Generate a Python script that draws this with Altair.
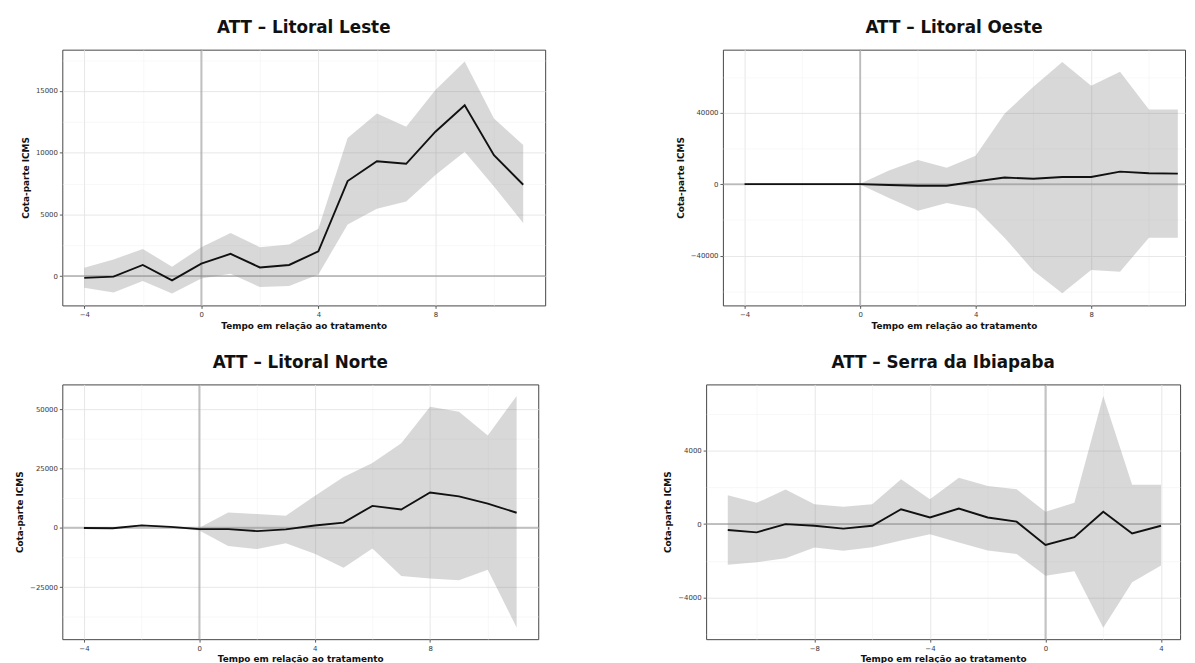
import altair as alt
import pandas as pd

# ---------------- data ----------------
t_main = [-4, -3, -2, -1, 0, 1, 2, 3, 4, 5, 6, 7, 8, 9, 10, 11]
t_ibia = [-11, -10, -9, -8, -7, -6, -5, -4, -3, -2, -1, 0, 1, 2, 3, 4]

leste_att = [-150, -50, 900, -350, 1000, 1800, 700, 900, 2000, 7700, 9300, 9100, 11700, 13850, 9800, 7400]
leste_hi = [670, 1340, 2200, 750, 2340, 3500, 2340, 2550, 3840, 11200, 13170, 12100, 15080, 17400, 12770, 10620]
leste_lo = [-940, -1340, -400, -1420, -190, 190, -890, -800, 130, 4170, 5460, 6050, 8200, 10080, 7260, 4300]

oeste_att = [0, 0, 0, 0, 0, -500, -900, -900, 1500, 3700, 3000, 4000, 4000, 7000, 6100, 5900]
oeste_hi = [200, 200, 200, 200, 200, 7600, 13500, 9200, 15900, 39350, 54500, 68360, 55060, 62800, 41750, 41750]
oeste_lo = [-200, -200, -200, -200, -200, -7760, -14800, -10530, -13670, -29900, -48400, -61000, -48000, -49000, -29900, -29900]

norte_att = [-100, -200, 1000, 400, -550, -550, -1380, -690, 970, 2200, 9250, 7730, 14900, 13260, 10220, 6350]
norte_hi = [200, 100, 1300, 700, 0, 6500, 5800, 5100, 13400, 21400, 27350, 35640, 51100, 49000, 38950, 55600]
norte_lo = [-400, -500, 700, 100, -1100, -7700, -9000, -6500, -11000, -16850, -8700, -20300, -21400, -22100, -17700, -42100]

ibia_att = [-325, -450, 0, -90, -250, -90, 810, 360, 850, 360, 130, -1140, -720, 670, -510, -90]
ibia_hi = [1570, 1160, 1880, 1080, 940, 1080, 2440, 1350, 2530, 2080, 1900, 670, 1160, 6990, 2150, 2150]
ibia_lo = [-2220, -2080, -1860, -1280, -1460, -1260, -900, -560, -1010, -1440, -1630, -2820, -2580, -5650, -3180, -2260]

titles = ["ATT – Litoral Leste", "ATT – Litoral Oeste", "ATT – Litoral Norte", "ATT – Serra da Ibiapaba"]
x_title = "Tempo em relação ao tratamento"
y_title = "Cota-parte ICMS"

FONT = "DejaVu Sans"


def cond(test, a, b):
    return {"condition": {"test": test, "value": a}, "value": b}


def panel(t, att, lo, hi, title, xdom, ydom, xvals, yvals, ystep, width, height):
    df = pd.DataFrame({"t": t, "att": att, "lo": lo, "hi": hi})
    xscale = alt.Scale(domain=xdom, nice=False, zero=False)
    yscale = alt.Scale(domain=ydom, nice=False, zero=False)

    xtest = "datum.value % 4 === 0"
    ytest = f"datum.value % {ystep} === 0"
    common = dict(
        format="d", grid=True, domain=False,
        tickSize=3, tickColor="#333333", tickWidth=0.8,
        labelFontSize=7, labelColor="#3a3a3a", labelPadding=2, labelFont=FONT,
        titleFontSize=9, titleFontWeight="bold", titleFont=FONT, titleColor="#111111",
    )
    xaxis = alt.Axis(
        values=xvals,
        labelExpr=f"{xtest} ? datum.label : ''",
        tickOpacity=cond(xtest, 1, 0),
        gridColor=cond(xtest, "#e4e4e4", "#f1f1f1"),
        gridWidth=cond(xtest, 0.9, 0.5),
        title=x_title, titlePadding=4, **common,
    )
    yaxis = alt.Axis(
        values=yvals,
        labelExpr=f"{ytest} ? datum.label : ''",
        tickOpacity=cond(ytest, 1, 0),
        gridColor=cond(ytest, "#e4e4e4", "#f1f1f1"),
        gridWidth=cond(ytest, 0.9, 0.5),
        title=y_title, titlePadding=5, **common,
    )

    X = lambda f: alt.X(f, scale=xscale, axis=xaxis, title=x_title)
    Y = lambda f: alt.Y(f, scale=yscale, axis=yaxis, title=y_title)

    band = alt.Chart(df).mark_area(color="#7f7f7f", opacity=0.3).encode(
        x=X("t:Q"), y=Y("lo:Q"), y2="hi:Q",
    )
    zero = pd.DataFrame({"z": [0]})
    hrule = alt.Chart(zero).mark_rule(color="#8c8c8c", opacity=0.5, strokeWidth=2).encode(
        y=Y("z:Q")
    )
    vrule = alt.Chart(zero).mark_rule(color="#8c8c8c", opacity=0.5, strokeWidth=2).encode(
        x=X("z:Q")
    )
    line = alt.Chart(df).mark_line(color="#111111", strokeWidth=1.9).encode(
        x=X("t:Q"), y=Y("att:Q"),
    )
    return alt.layer(band, hrule, vrule, line).properties(
        width=width, height=height,
        title=alt.TitleParams(title, fontSize=17, fontWeight="bold", anchor="middle",
                              font=FONT, offset=12, color="#111111"),
    )


p1 = panel(t_main, leste_att, leste_lo, leste_hi, titles[0],
           [-4.75, 11.75], [-2380, 18350],
           [-4, -2, 0, 2, 4, 6, 8, 10], [0, 2500, 5000, 7500, 10000, 12500, 15000, 17500], 5000,
           489, 259)
p2 = panel(t_main, oeste_att, oeste_lo, oeste_hi, titles[1],
           [-4.75, 11.25], [-67800, 75200],
           [-4, -2, 0, 2, 4, 6, 8, 10], [-60000, -40000, -20000, 0, 20000, 40000, 60000], 40000,
           468, 259)
p3 = panel(t_main, norte_att, norte_lo, norte_hi, titles[2],
           [-4.75, 11.75], [-47000, 60500],
           [-4, -2, 0, 2, 4, 6, 8, 10], [-37500, -25000, -12500, 0, 12500, 25000, 37500, 50000], 25000,
           482, 258)
p4 = panel(t_ibia, ibia_att, ibia_lo, ibia_hi, titles[3],
           [-11.75, 4.66], [-6280, 7620],
           [-10, -8, -6, -4, -2, 0, 2, 4], [-6000, -4000, -2000, 0, 2000, 4000, 6000], 4000,
           480, 258)

row1 = alt.hconcat(p1, p2, spacing=130)
row2 = alt.hconcat(p3, p4, spacing=124)

chart = alt.vconcat(row1, row2, spacing=22).properties(
    padding={"left": 7, "top": 6, "right": 0, "bottom": 0},
    background="white",
).configure_view(stroke="#444444", strokeWidth=1)

chart.save("out.html", embed_options={"renderer": "svg", "actions": False})
